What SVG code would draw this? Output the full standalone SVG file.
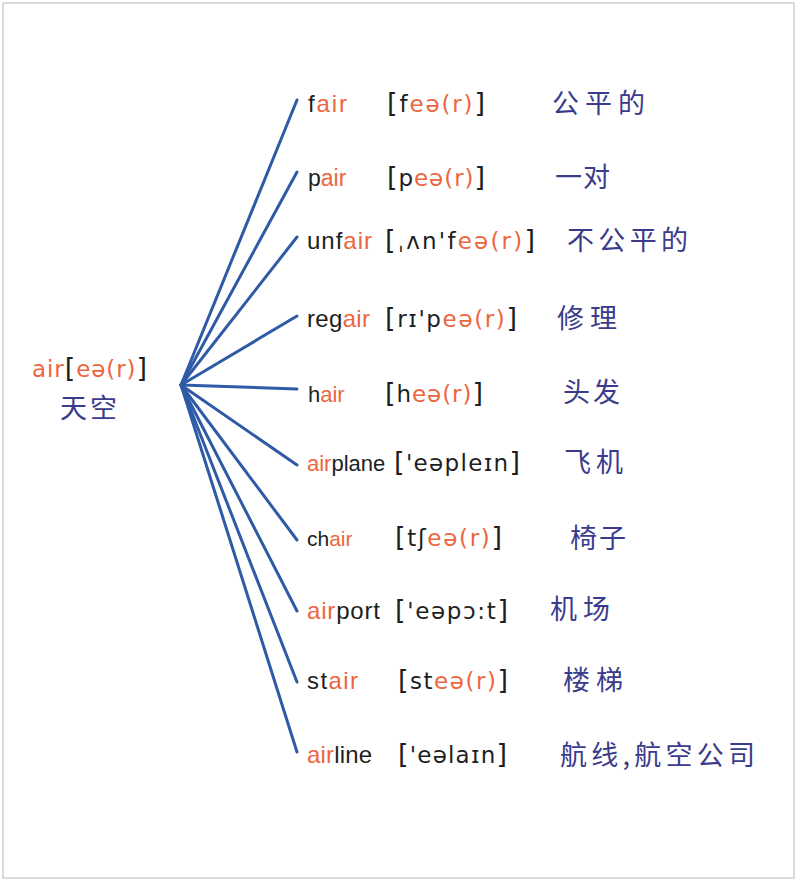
<svg xmlns="http://www.w3.org/2000/svg" width="800" height="885" viewBox="0 0 800 885">
<style>
.en{font-family:"DejaVu Sans","Liberation Sans",sans-serif;font-size:23px;fill:#1e1e1e}
.w{font-family:"Liberation Sans","DejaVu Sans",sans-serif;font-size:24px;fill:#1e1e1e}
.o{fill:#ec6640}
.br{font-size:27px}
.zh{font-family:"Noto Sans CJK SC","Noto Sans",sans-serif;font-size:27px;fill:#3b3b8c}
.ln{stroke:#2f5aa6;stroke-width:3;fill:none;stroke-linecap:round}
</style>
<rect x="3" y="3" width="791" height="875" fill="#fff" stroke="#d0d0d0" stroke-width="1.5"/>
<g id="connectors">
<line class="ln" x1="181" y1="385" x2="297" y2="100"/>
<line class="ln" x1="181" y1="385" x2="297" y2="172"/>
<line class="ln" x1="181" y1="385" x2="297" y2="237"/>
<line class="ln" x1="181" y1="385" x2="297" y2="316"/>
<line class="ln" x1="181" y1="385" x2="297" y2="389"/>
<line class="ln" x1="181" y1="385" x2="297" y2="465"/>
<line class="ln" x1="181" y1="385" x2="297" y2="540"/>
<line class="ln" x1="181" y1="385" x2="297" y2="611"/>
<line class="ln" x1="181" y1="385" x2="297" y2="682"/>
<line class="ln" x1="181" y1="385" x2="297" y2="752"/>
</g>
<g id="root">
<text class="en" x="32" y="377" textLength="115" lengthAdjust="spacing"><tspan class="o">air</tspan><tspan class="br">[</tspan><tspan class="o">eə(r)</tspan><tspan class="br">]</tspan></text>
<text class="zh" x="60" y="418" textLength="57" lengthAdjust="spacing">天空</text>
</g>
<g id="fair">
<text class="w" x="308" y="112" textLength="39" lengthAdjust="spacing">f<tspan class="o">air</tspan></text>
<text class="en" x="387" y="112" textLength="98" lengthAdjust="spacing"><tspan class="br">[</tspan>f<tspan class="o">eə(r)</tspan><tspan class="br">]</tspan></text>
<text class="zh" x="552" y="113" textLength="93" lengthAdjust="spacing">公平的</text>
</g>
<g id="pair">
<text class="w" x="308" y="186" style="font-size:23px">p<tspan class="o">air</tspan></text>
<text class="en" x="387" y="186" textLength="98" lengthAdjust="spacing"><tspan class="br">[</tspan>p<tspan class="o">eə(r)</tspan><tspan class="br">]</tspan></text>
<text class="zh" x="555" y="187" textLength="55" lengthAdjust="spacing">一对</text>
</g>
<g id="unfair">
<text class="w" x="307" y="249" textLength="65" lengthAdjust="spacing">unf<tspan class="o">air</tspan></text>
<text class="en" x="385" y="249" textLength="150" lengthAdjust="spacing"><tspan class="br">[</tspan>ˌʌn'f<tspan class="o">eə(r)</tspan><tspan class="br">]</tspan></text>
<text class="zh" x="567" y="250" textLength="121" lengthAdjust="spacing">不公平的</text>
</g>
<g id="regair">
<text class="w" x="307" y="327" textLength="63" lengthAdjust="spacing">reg<tspan class="o">air</tspan></text>
<text class="en" x="385" y="327" textLength="132" lengthAdjust="spacing"><tspan class="br">[</tspan>rɪ'p<tspan class="o">eə(r)</tspan><tspan class="br">]</tspan></text>
<text class="zh" x="557" y="328" textLength="60" lengthAdjust="spacing">修理</text>
</g>
<g id="hair">
<text class="w" x="308" y="402" style="font-size:22px">h<tspan class="o">air</tspan></text>
<text class="en" x="385" y="402" textLength="98" lengthAdjust="spacing"><tspan class="br">[</tspan>h<tspan class="o">eə(r)</tspan><tspan class="br">]</tspan></text>
<text class="zh" x="563" y="402" textLength="57" lengthAdjust="spacing">头发</text>
</g>
<g id="airplane">
<text class="w" x="307" y="471" style="font-size:22px"><tspan class="o">air</tspan>plane</text>
<text class="en" x="394" y="471" textLength="126" lengthAdjust="spacing"><tspan class="br">[</tspan>'eəpleɪn<tspan class="br">]</tspan></text>
<text class="zh" x="564" y="472" textLength="59" lengthAdjust="spacing">飞机</text>
</g>
<g id="chair">
<text class="w" x="307" y="546" style="font-size:21px">ch<tspan class="o">air</tspan></text>
<text class="en" x="395" y="546" textLength="107" lengthAdjust="spacing"><tspan class="br">[</tspan>tʃ<tspan class="o">eə(r)</tspan><tspan class="br">]</tspan></text>
<text class="zh" x="570" y="548" textLength="56" lengthAdjust="spacing">椅子</text>
</g>
<g id="airport">
<text class="w" x="307" y="619" textLength="73" lengthAdjust="spacing"><tspan class="o">air</tspan>port</text>
<text class="en" x="395" y="619" textLength="113" lengthAdjust="spacing"><tspan class="br">[</tspan>'eəpɔ:t<tspan class="br">]</tspan></text>
<text class="zh" x="550" y="619" textLength="60" lengthAdjust="spacing">机场</text>
</g>
<g id="stair">
<text class="w" x="307" y="689" textLength="51" lengthAdjust="spacing">st<tspan class="o">air</tspan></text>
<text class="en" x="398" y="689" textLength="110" lengthAdjust="spacing"><tspan class="br">[</tspan>st<tspan class="o">eə(r)</tspan><tspan class="br">]</tspan></text>
<text class="zh" x="563" y="690" textLength="60" lengthAdjust="spacing">楼梯</text>
</g>
<g id="airline">
<text class="w" x="307" y="763" textLength="65" lengthAdjust="spacing"><tspan class="o">air</tspan>line</text>
<text class="en" x="398" y="763" textLength="109" lengthAdjust="spacing"><tspan class="br">[</tspan>'eəlaɪn<tspan class="br">]</tspan></text>
<text class="zh" x="560" y="765" textLength="195" lengthAdjust="spacing">航线,航空公司</text>
</g>
</svg>
